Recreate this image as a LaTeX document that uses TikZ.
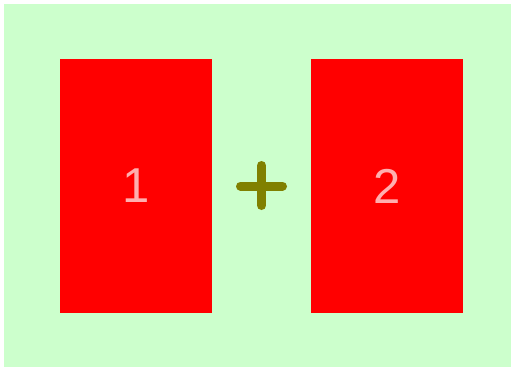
\documentclass[tikz,border=0pt]{standalone}
\usepackage{fontspec}
\setmainfont{Liberation Sans}
\definecolor{bggreen}{RGB}{204,255,204}
\definecolor{numpink}{RGB}{255,175,175}
\definecolor{olivec}{RGB}{128,128,0}
\begin{document}
\begin{tikzpicture}[x=1pt,y=-1pt,
  box/.style={fill=red,draw=none,minimum width=152pt,minimum height=254pt,inner sep=0pt,
    text=numpink,font=\fontsize{49}{49}\selectfont},
  plusline/.style={draw=olivec,line width=9pt,line cap=round}]
\useasboundingbox (0,0) rectangle (511,367);
\fill[bggreen] (4,4) rectangle (511,367);
\node[box] (b1) at (136,186) {1};
\node[box] (b2) at (387,186) {2};
\coordinate (pl) at (240.5,186);
\coordinate (pr) at (282.5,186);
\coordinate (pt) at (261.5,165.5);
\coordinate (pb) at (261.5,205.5);
\draw[plusline] (pl) -- (pr);
\draw[plusline] (pt) -- (pb);
\end{tikzpicture}
\end{document}
